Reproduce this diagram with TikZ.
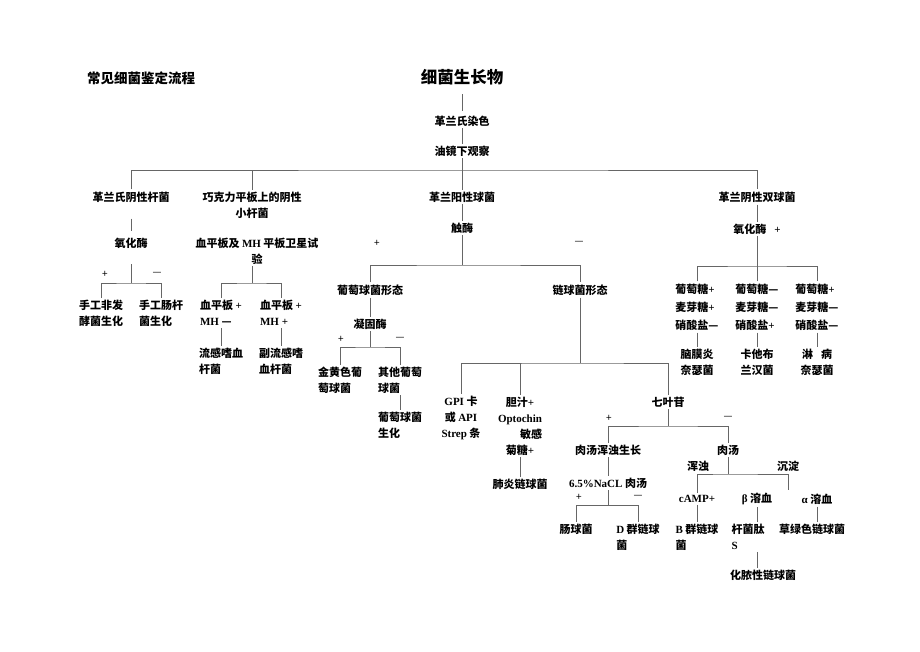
\documentclass[tikz,border=0pt]{standalone}
\usepackage{fontspec}
\setmainfont{Noto Sans CJK SC}
\newfontfamily\tnr{Liberation Serif}
\newcommand{\lt}[1]{{\tnr\bfseries #1}}
\tikzset{
  lbl/.style={font=\fontsize{11}{16}\selectfont\bfseries, inner sep=2pt, align=center},
  lbll/.style={lbl, align=left},
  lbltri/.style={lbll, font=\fontsize{11}{18}\selectfont\bfseries},
  sgn/.style={font=\fontsize{10}{12}\selectfont, inner sep=0pt},
  ln/.style={draw=black!60, line width=0.7pt}
}

\begin{document}
\begin{tikzpicture}[x=1pt, y=-1pt]
\useasboundingbox (0,0) rectangle (920,651);

% top of the tree
\node[lbl, font=\fontsize{13.5}{16}\selectfont\bfseries] (ttl) at (141,78) {常见细菌鉴定流程};
\node[lbl, font=\fontsize{16.5}{20}\selectfont\bfseries] (root) at (462,77) {细菌生长物};
\node[lbl] (stain) at (462,121) {革兰氏染色};
\node[lbl] (oil) at (462,151) {油镜下观察};
\coordinate (top) at (462,170);
\node[lbl] (gnr) at (131,197) {革兰氏阴性杆菌};
\node[lbl] (choc) at (252,205) {巧克力平板上的阴性\\小杆菌};
\node[lbl] (gpc) at (462,197) {革兰阳性球菌};
\node[lbl] (gnd) at (757,197) {革兰阴性双球菌};
\draw[ln, shorten <=7pt, shorten >=3pt] (root) -- (stain);
\draw[ln] (stain) -- (oil);
\draw[ln] (oil) -- (top);
\draw[ln] (gnr) |- (top) -| (gnd);
\draw[ln] (choc) -- (choc |- top);
\draw[ln] (gpc) -- (top);

% gram negative rods
\node[lbl] (oxa) at (131,243) {氧化酶};
\coordinate (ba) at (131,283);
\draw[ln, shorten <=14pt, shorten >=5pt] (gnr) -- (oxa);
\draw[ln, shorten <=14pt] (oxa) -- (ba);
\node[sgn] (pa) at (105,274) {+};
\node[sgn] (ma) at (157,274) {—};
\node[lbll] (nonf) at (101,313) {手工非发\\酵菌生化};
\node[lbll] (entb) at (161,313) {手工肠杆\\菌生化};
\draw[ln] (nonf) |- (ba) -| (entb);

% chocolate plate
\node[lbl] (sat) at (257,251) {血平板及 \lt{MH} 平板卫星试\\验};
\coordinate (bb) at (252,283);
\draw[ln] (bb |- sat.south) -- (bb);
\node[lbll] (mhn) at (221,313) {血平板 \lt{+}\\\lt{MH} —};
\node[lbll] (mhp) at (281,313) {血平板 \lt{+}\\\lt{MH +}};
\draw[ln] (mhn) |- (bb) -| (mhp);
\node[lbll] (hi) at (221,361) {流感嗜血\\杆菌};
\node[lbll] (phi) at (281,361) {副流感嗜\\血杆菌};
\draw[ln] (mhn) -- (hi);
\draw[ln] (mhp) -- (phi);

% gram positive cocci
\node[lbl] (cat) at (462,228) {触酶};
\coordinate (bc) at (462,265);
\draw[ln] (gpc) -- (cat);
\draw[ln] (cat) -- (bc);
\node[sgn] (pc) at (377,243) {+};
\node[sgn] (mc) at (579,243) {—};
\node[lbl] (staph) at (370,290) {葡萄球菌形态};
\node[lbl] (strep) at (580,290) {链球菌形态};
\draw[ln] (staph) |- (bc) -| (strep);
\node[lbl] (coag) at (370,324) {凝固酶};
\coordinate (bd) at (370,347);
\draw[ln] (staph) -- (coag);
\draw[ln] (coag) -- (bd);
\node[sgn] (pd) at (341,339) {+};
\node[sgn] (md) at (400,339) {—};
\node[lbll] (aur) at (340,380) {金黄色葡\\萄球菌};
\node[lbll] (oth) at (400,380) {其他葡萄\\球菌};
\draw[ln] (aur) |- (bd) -| (oth);
\node[lbll] (sbio) at (400,425) {葡萄球菌\\生化};
\draw[ln] (oth) -- (sbio);

% streptococci
\coordinate (be) at (580,363);
\draw[ln] (strep) -- (be);
\node[lbl] (gpi) at (461,418) {\lt{GPI} 卡\\或 \lt{API}\\\lt{Strep} 条};
\node[lbl] (bile) at (520,426) {胆汁\lt{+}\\\lt{Optochin}\\\hspace*{22pt}敏感\\菊糖\lt{+}};
\node[lbl] (esc) at (668,402) {七叶苷};
\draw[ln] (gpi) |- (be) -| (esc);
\draw[ln] (bile) -- (bile |- be);
\node[lbl] (pneu) at (520,484) {肺炎链球菌};
\draw[ln] (bile) -- (pneu);

% esculin
\coordinate (bf) at (668,426);
\draw[ln] (esc) -- (bf);
\node[sgn] (pf) at (609,418) {+};
\node[sgn] (mf) at (728,418) {—};
\node[lbl] (turb) at (608,450) {肉汤浑浊生长};
\node[lbl] (broth) at (728,450) {肉汤};
\draw[ln] (turb) |- (bf) -| (broth);
\node[lbl] (nacl) at (608,483) {\lt{6.5\%NaCL} 肉汤};
\coordinate (bg) at (608,505);
\draw[ln] (turb) -- (nacl);
\draw[ln] (nacl) -- (bg);
\node[sgn] (pg) at (579,497) {+};
\node[sgn] (mg) at (638,497) {—};
\node[lbl] (ent) at (576,529) {肠球菌};
\node[lbll] (grpd) at (638,537) {\lt{D} 群链球\\菌};
\draw[ln] (ent) |- (bg) -| (grpd);

% broth
\coordinate (bh) at (728,474);
\coordinate (sedx) at (788,490);
\draw[ln] (broth) -- (bh);
\node[lbl] (turbl) at (698,466) {浑浊};
\node[lbl] (sedl) at (788,466) {沉淀};
\node[lbl] (camp) at (697,499) {\lt{cAMP+}};
\node[lbl] (beta) at (757,499) {\lt{β} 溶血};
\node[lbl] (alpha) at (817,499) {\lt{α} 溶血};
\draw[ln] (camp) |- (bh) -| (sedx);
\node[lbll] (gbs) at (697,537) {\lt{B} 群链球\\菌};
\node[lbll] (bac) at (748,537) {杆菌肽\\\lt{S}};
\node[lbl] (vir) at (812,529) {草绿色链球菌};
\node[lbl] (pyo) at (763,575) {化脓性链球菌};
\draw[ln] (camp) -- (gbs);
\draw[ln] (beta) -- (beta |- bac.north);
\draw[ln] (alpha) -- (alpha |- vir.north);
\draw[ln] (beta |- bac.south) -- (beta |- pyo.north);

% gram negative diplococci
\node[lbl] (oxb) at (757,229) {氧化酶\hspace{8pt}\lt{+}};
\coordinate (bi) at (757,266);
\draw[ln] (gnd) -- (oxb);
\draw[ln] (oxb) -- (bi);
\node[lbltri] (ng1) at (697,307) {葡萄糖\lt{+}\\麦芽糖\lt{+}\\硝酸盐—};
\node[lbltri] (ng2) at (757,307) {葡萄糖—\\麦芽糖—\\硝酸盐\lt{+}};
\node[lbltri] (ng3) at (817,307) {葡萄糖\lt{+}\\麦芽糖—\\硝酸盐—};
\draw[ln] (ng1) |- (bi) -| (ng3);
\draw[ln] (ng2) -- (bi);
\node[lbl] (men) at (697,362) {脑膜炎\\奈瑟菌};
\node[lbl] (mcat) at (757,362) {卡他布\\兰汉菌};
\node[lbl] (gon) at (817,362) {淋\hspace{8pt}病\\奈瑟菌};
\draw[ln] (ng1) -- (men);
\draw[ln] (ng2) -- (mcat);
\draw[ln] (ng3) -- (gon);
\end{tikzpicture}
\end{document}
